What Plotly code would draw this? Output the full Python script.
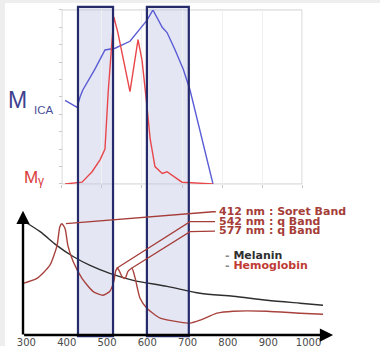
import plotly.graph_objects as go
import numpy as np

# ---------------- data ----------------
# main panel: absorption spectra, wavelength (nm) vs arbitrary units
mel_nm = [292, 334, 376, 416, 458, 507, 565, 649, 731, 813, 897, 979, 1036]
mel_val = [11.5, 10.4, 9.0, 7.9, 7.0, 6.2, 5.5, 4.9, 4.2, 3.9, 3.5, 3.2, 3.0]

hb_nm = [292, 326, 358, 376, 383, 388, 396, 403, 416, 438, 465, 490, 507, 517,
         522, 527, 537, 545, 552, 562, 570, 582, 599, 632, 681, 706, 731, 773,
         813, 897, 979, 1036]
hb_val = [5.2, 5.7, 7.0, 9.0, 10.9, 11.2, 10.7, 9.0, 7.4, 5.7, 4.4, 4.0, 4.4, 5.4,
          6.5, 6.7, 5.9, 5.7, 6.4, 6.7, 5.7, 3.7, 2.7, 1.7, 1.3, 1.2, 1.5, 2.2,
          2.4, 2.4, 2.2, 2.1]

# inset: normalised M_ICA and M_gamma
ica_nm = [396, 426, 433, 440, 470, 495, 520, 557, 599, 614, 637, 649, 669, 689, 706, 763]
ica_val = [0.48, 0.44, 0.50, 0.54, 0.66, 0.77, 0.78, 0.82, 0.94, 1.0, 0.90, 0.87,
           0.77, 0.66, 0.54, 0.0]
gam_nm = [396, 438, 463, 483, 495, 503, 512, 517, 527, 557, 577, 587, 599, 607,
          619, 637, 649, 686, 763]
gam_val = [0.0, 0.01, 0.07, 0.14, 0.20, 0.53, 0.81, 0.96, 0.87, 0.53, 0.83, 0.71,
           0.45, 0.26, 0.10, 0.06, 0.07, 0.01, 0.0]

bands = [(428, 515), (599, 703)]
tick_nm = [300, 400, 500, 600, 700, 800, 900, 1000]
tick_txt = [str(t) for t in tick_nm]
band_labels = ["412 nm : Soret Band", "542 nm : q Band", "577 nm : q Band"]
legend_labels = ["Melanin", "Hemoglobin"]

# ---------------- layout helpers ----------------
W, H = 380, 348
def px(x):
    return x / W
def py(y):
    return 1 - y / H

X_RANGE = [234.5, 1177.4]
AXIS_X0 = 291.6   # y-axis position (nm)
AXIS_X1 = 1061    # x-axis arrow tip (nm)
Y_TOP = 12.5      # y-axis arrow tip

MAROON = "#a53d38"
NAVY = "#252a6b"

fig = go.Figure()

fig.add_trace(go.Scatter(x=mel_nm, y=mel_val, mode="lines",
                         line=dict(color="#2e2e2e", width=1.4, shape="spline", smoothing=0.8),
                         xaxis="x", yaxis="y", showlegend=False, hoverinfo="skip"))
fig.add_trace(go.Scatter(x=hb_nm, y=hb_val, mode="lines",
                         line=dict(color="#a8423d", width=1.4, shape="spline", smoothing=0.6),
                         xaxis="x", yaxis="y", showlegend=False, hoverinfo="skip"))
fig.add_trace(go.Scatter(x=ica_nm, y=ica_val, mode="lines",
                         line=dict(color="#5a5cd4", width=1.4),
                         xaxis="x2", yaxis="y2", showlegend=False, hoverinfo="skip"))
fig.add_trace(go.Scatter(x=gam_nm, y=gam_val, mode="lines",
                         line=dict(color="#e8474a", width=1.4),
                         xaxis="x2", yaxis="y2", showlegend=False, hoverinfo="skip"))

shapes = []
# grey frame strips (left / top)
shapes.append(dict(type="rect", xref="paper", yref="paper", x0=0, x1=px(5), y0=0, y1=1,
                   fillcolor="#eeeeee", line=dict(width=0), layer="below"))
shapes.append(dict(type="rect", xref="paper", yref="paper", x0=0, x1=1, y0=py(3), y1=1,
                   fillcolor="#eeeeee", line=dict(width=0), layer="below"))
# inset frame
shapes.append(dict(type="rect", xref="paper", yref="paper", x0=px(62), x1=px(302),
                   y0=py(185), y1=py(10), line=dict(color="#d2d2d2", width=1), layer="below"))
# bands
for b0, b1 in bands:
    shapes.append(dict(type="rect", xref="x", yref="paper", x0=b0, x1=b1,
                       y0=py(338), y1=py(7), fillcolor="rgba(190,196,228,0.42)",
                       line=dict(width=0), layer="below"))
    shapes.append(dict(type="rect", xref="x", yref="paper", x0=b0, x1=b1,
                       y0=py(338), y1=py(7), fillcolor="rgba(0,0,0,0)",
                       line=dict(color=NAVY, width=2.2), layer="above"))

# leader lines from the hemoglobin peaks to the labels
i_soret = int(np.argmax(hb_val))
q1 = hb_nm.index(527)
q2 = hb_nm.index(562)
starts = [(hb_nm[i_soret] + 10, hb_val[i_soret]), (hb_nm[q1] - 4, hb_val[q1]), (hb_nm[q2] - 2, hb_val[q2])]
bends = [(763, 12.4), (706, 11.4), (706, 10.4)]
ends = [(770, 12.4), (768, 11.4), (768, 10.45)]
for s, b, e in zip(starts, bends, ends):
    shapes.append(dict(type="path", xref="x", yref="y",
                       path=f"M{s[0]},{s[1]} L{b[0]},{b[1]} L{e[0]},{e[1]}",
                       line=dict(color=MAROON, width=1.3), layer="above"))

annotations = []
# axes arrows
annotations.append(dict(x=AXIS_X1, y=0, ax=AXIS_X0 - 1, ay=0, xref="x", yref="y",
                        axref="x", ayref="y", showarrow=True, arrowhead=2, arrowsize=1.1,
                        arrowwidth=2.4, arrowcolor="black", text=""))
annotations.append(dict(x=AXIS_X0, y=Y_TOP, ax=AXIS_X0, ay=-0.1, xref="x", yref="y",
                        axref="x", ayref="y", showarrow=True, arrowhead=2, arrowsize=1.1,
                        arrowwidth=2.4, arrowcolor="black", text=""))

# band labels
for lab, yy in zip(band_labels, [212.5, 222.5, 232]):
    annotations.append(dict(x=px(217), y=py(yy), xref="paper", yref="paper",
                            xanchor="left", yanchor="middle", showarrow=False,
                            text=lab, font=dict(family="DejaVu Sans", size=11, color=MAROON,
                                                weight="bold")))
annotations.append(dict(x=px(223), y=py(257), xref="paper", yref="paper",
                        xanchor="left", yanchor="middle", showarrow=False,
                        text="<span style='color:#888888'>- </span>" + legend_labels[0],
                        font=dict(family="DejaVu Sans", size=11, color="#2f2f2f", weight="bold")))
annotations.append(dict(x=px(223), y=py(267.5), xref="paper", yref="paper",
                        xanchor="left", yanchor="middle", showarrow=False,
                        text="<span style='color:#888888'>- </span>" + legend_labels[1],
                        font=dict(family="DejaVu Sans", size=11, color="#c03a34", weight="bold")))

# M_ICA and M_gamma labels
annotations.append(dict(x=px(6), y=py(101), xref="paper", yref="paper", xanchor="left",
                        yanchor="middle", showarrow=False, text="M",
                        font=dict(family="Liberation Sans", size=23, color="#3e428f")))
annotations.append(dict(x=px(32), y=py(111), xref="paper", yref="paper", xanchor="left",
                        yanchor="middle", showarrow=False, text="ICA",
                        font=dict(family="Liberation Sans", size=11.5, color="#4a4f98")))
annotations.append(dict(x=px(22), y=py(179), xref="paper", yref="paper", xanchor="left",
                        yanchor="middle", showarrow=False, text="M",
                        font=dict(family="Liberation Sans", size=17, color="#d93b3b")))
annotations.append(dict(x=px(36), y=py(182), xref="paper", yref="paper", xanchor="left",
                        yanchor="middle", showarrow=False, text="γ",
                        font=dict(family="Liberation Sans", size=12, color="#d93b3b")))

inset_ticks = list(np.linspace(388.3, 983.9, 7))

fig.update_layout(
    width=W, height=H, margin=dict(l=0, r=0, t=0, b=0),
    paper_bgcolor="white", plot_bgcolor="rgba(0,0,0,0)",
    xaxis=dict(domain=[0, 1], range=X_RANGE, anchor="y", showgrid=False, zeroline=False,
               showline=False, tickvals=tick_nm, ticktext=tick_txt, ticks="",
               tickfont=dict(family="DejaVu Sans", size=10, color="#4a4a4a")),
    yaxis=dict(domain=[py(337), py(205)], range=[0, 13.2], anchor="x", visible=False),
    xaxis2=dict(matches="x", anchor="y2", showgrid=True, gridcolor="#f0f0f0",
                zeroline=False, showline=False, tickvals=inset_ticks, showticklabels=False,
                ticks="outside", ticklen=3, tickcolor="#c8c8c8"),
    yaxis2=dict(domain=[py(185), py(10)], range=[0, 1], anchor="free", position=px(62),
                showgrid=False, zeroline=False, showline=False,
                tickvals=[i / 10 for i in range(11)], showticklabels=False,
                ticks="outside", ticklen=3, tickcolor="#c8c8c8"),
    shapes=shapes, annotations=annotations, showlegend=False,
)

fig.write_html("out.html", config={"displayModeBar": False},
               post_script="document.body.style.margin='0';document.body.style.overflow='hidden';")
